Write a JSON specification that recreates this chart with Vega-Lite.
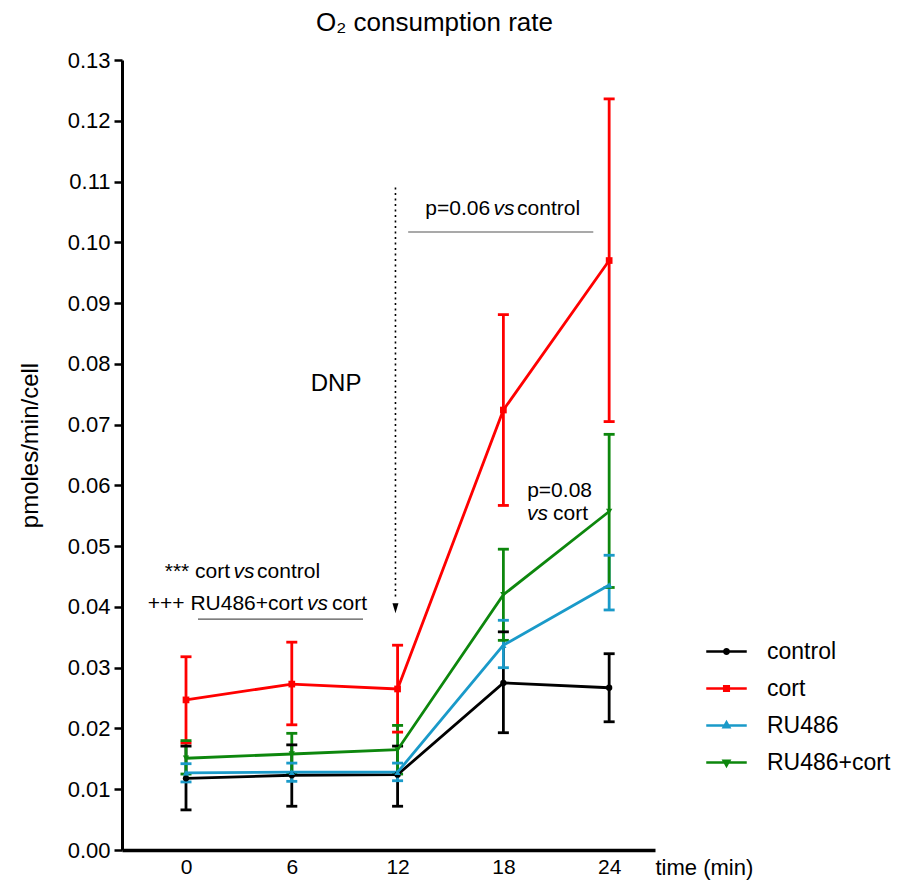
{
  "$schema": "https://vega.github.io/schema/vega-lite/v6.json",
  "width": 533,
  "height": 790,
  "autosize": {"type": "none"},
  "padding": {"left": 122, "top": 60, "right": 248, "bottom": 33},
  "background": "white",
  "config": {
    "view": {"stroke": null},
    "font": "Liberation Sans",
    "text": {"font": "Liberation Sans", "fontSize": 21, "color": "black"}
  },
  "title": {
    "text": "O₂ consumption rate",
    "font": "Liberation Sans",
    "fontSize": 26,
    "fontWeight": "normal",
    "color": "black",
    "anchor": "middle",
    "frame": "group",
    "dx": 46,
    "offset": -8,
    "baseline": "alphabetic"
  },
  "datasets": {
    "ocr": [
      {"series": "control", "t": 0, "mean": 0.0118, "lo": 0.0066, "hi": 0.0171},
      {"series": "control", "t": 6, "mean": 0.0123, "lo": 0.0072, "hi": 0.0173},
      {"series": "control", "t": 12, "mean": 0.0124, "lo": 0.0072, "hi": 0.0171},
      {"series": "control", "t": 18, "mean": 0.0275, "lo": 0.0193, "hi": 0.0359},
      {"series": "control", "t": 24, "mean": 0.0267, "lo": 0.0211, "hi": 0.0323},
      {"series": "cort", "t": 0, "mean": 0.0247, "lo": 0.0176, "hi": 0.0318},
      {"series": "cort", "t": 6, "mean": 0.0273, "lo": 0.0206, "hi": 0.0342},
      {"series": "cort", "t": 12, "mean": 0.0265, "lo": 0.0194, "hi": 0.0337},
      {"series": "cort", "t": 18, "mean": 0.0724, "lo": 0.0567, "hi": 0.0881},
      {"series": "cort", "t": 24, "mean": 0.0970, "lo": 0.0705, "hi": 0.1236},
      {"series": "RU486", "t": 0, "mean": 0.0127, "lo": 0.0112, "hi": 0.0142},
      {"series": "RU486", "t": 6, "mean": 0.0128, "lo": 0.0113, "hi": 0.0143},
      {"series": "RU486", "t": 12, "mean": 0.0128, "lo": 0.0114, "hi": 0.0143},
      {"series": "RU486", "t": 18, "mean": 0.0337, "lo": 0.0300, "hi": 0.0378},
      {"series": "RU486", "t": 24, "mean": 0.0436, "lo": 0.0395, "hi": 0.0485},
      {"series": "RU486+cort", "t": 0, "mean": 0.0151, "lo": 0.0125, "hi": 0.0180},
      {"series": "RU486+cort", "t": 6, "mean": 0.0158, "lo": 0.0126, "hi": 0.0192},
      {"series": "RU486+cort", "t": 12, "mean": 0.0165, "lo": 0.0125, "hi": 0.0205},
      {"series": "RU486+cort", "t": 18, "mean": 0.0420, "lo": 0.0345, "hi": 0.0495},
      {"series": "RU486+cort", "t": 24, "mean": 0.0557, "lo": 0.0432, "hi": 0.0684}
    ]
  },
  "layer": [
    {
      "data": {"name": "ocr"},
      "mark": {"type": "rule", "strokeWidth": 2.8},
      "encoding": {
        "x": {
          "field": "t", "type": "quantitative",
          "title": "time (min)",
          "scale": {"domain": [-3.63, 26.6], "nice": false, "zero": false},
          "axis": {
            "values": [0, 6, 12, 18, 24],
            "ticks": false,
            "grid": false,
            "domainColor": "black",
            "domainWidth": 3.5,
            "labelFont": "Liberation Sans",
            "labelFontSize": 21,
            "labelColor": "black",
            "labelPadding": 6,
            "title": "time (min)",
            "titleFont": "Liberation Sans",
            "titleFontSize": 22,
            "titleFontWeight": "normal",
            "titleColor": "black",
            "titleX": 533,
            "titleY": 17,
            "titleAlign": "left",
            "titleBaseline": "middle"
          }
        },
        "y": {
          "field": "lo", "type": "quantitative",
          "title": "pmoles/min/cell",
          "scale": {"domain": [0, 0.13], "nice": false},
          "axis": {
            "values": [0, 0.01, 0.02, 0.03, 0.04, 0.05, 0.06, 0.07, 0.08, 0.09, 0.1, 0.11, 0.12, 0.13],
            "format": ".2f",
            "grid": false,
            "domainColor": "black",
            "domainWidth": 3,
            "tickColor": "black",
            "tickWidth": 2.5,
            "tickSize": 8,
            "labelFont": "Liberation Sans",
            "labelFontSize": 22,
            "labelColor": "black",
            "labelPadding": 4,
            "title": "pmoles/min/cell",
            "titleFont": "Liberation Sans",
            "titleFontSize": 24,
            "titleFontWeight": "normal",
            "titleColor": "black",
            "titleX": -92,
            "titleY": 385,
            "titleAngle": -90,
            "titleAlign": "center",
            "titleBaseline": "middle"
          }
        },
        "y2": {"field": "hi"},
        "color": {
          "field": "series", "type": "nominal",
          "scale": {"domain": ["control", "cort", "RU486", "RU486+cort"], "range": ["#000000", "#ff0000", "#1a9ac9", "#0d870d"]}
        }
      }
    },
    {
      "data": {"name": "ocr"},
      "mark": {"type": "tick", "orient": "horizontal", "size": 11, "thickness": 2.8, "opacity": 1},
      "encoding": {
        "x": {"field": "t", "type": "quantitative", "title": "time (min)"},
        "y": {"field": "lo", "type": "quantitative", "title": "pmoles/min/cell"},
        "color": {"field": "series", "type": "nominal"}
      }
    },
    {
      "data": {"name": "ocr"},
      "mark": {"type": "tick", "orient": "horizontal", "size": 11, "thickness": 2.8, "opacity": 1},
      "encoding": {
        "x": {"field": "t", "type": "quantitative", "title": "time (min)"},
        "y": {"field": "hi", "type": "quantitative", "title": "pmoles/min/cell"},
        "color": {"field": "series", "type": "nominal"}
      }
    },
    {
      "data": {"name": "ocr"},
      "mark": {"type": "line", "strokeWidth": 2.8},
      "encoding": {
        "x": {"field": "t", "type": "quantitative", "title": "time (min)"},
        "y": {"field": "mean", "type": "quantitative", "title": "pmoles/min/cell"},
        "color": {"field": "series", "type": "nominal"}
      }
    },
    {
      "data": {"name": "ocr"},
      "transform": [{"filter": "datum.series === 'control'"}],
      "mark": {"type": "point", "filled": true, "size": 40, "opacity": 1, "shape": "circle", "color": "#000000"},
      "encoding": {
        "x": {"field": "t", "type": "quantitative", "title": "time (min)"},
        "y": {"field": "mean", "type": "quantitative", "title": "pmoles/min/cell"}
      }
    },
    {
      "data": {"name": "ocr"},
      "transform": [{"filter": "datum.series === 'cort'"}],
      "mark": {"type": "point", "filled": true, "size": 45, "opacity": 1, "shape": "square", "color": "#ff0000"},
      "encoding": {
        "x": {"field": "t", "type": "quantitative", "title": "time (min)"},
        "y": {"field": "mean", "type": "quantitative", "title": "pmoles/min/cell"}
      }
    },
    {
      "data": {"name": "ocr"},
      "transform": [{"filter": "datum.series === 'RU486'"}],
      "mark": {"type": "point", "filled": true, "size": 40, "opacity": 1, "shape": "triangle-up", "color": "#1a9ac9"},
      "encoding": {
        "x": {"field": "t", "type": "quantitative", "title": "time (min)"},
        "y": {"field": "mean", "type": "quantitative", "title": "pmoles/min/cell"}
      }
    },
    {
      "data": {"name": "ocr"},
      "transform": [{"filter": "datum.series === 'RU486+cort'"}],
      "mark": {"type": "point", "filled": true, "size": 40, "opacity": 1, "shape": "triangle-down", "color": "#0d870d"},
      "encoding": {
        "x": {"field": "t", "type": "quantitative", "title": "time (min)"},
        "y": {"field": "mean", "type": "quantitative", "title": "pmoles/min/cell"}
      }
    },
    {
      "data": {"name": "ocr"},
      "mark": {"type": "point", "filled": false, "size": 0, "strokeWidth": 2.6, "opacity": 1},
      "encoding": {
        "x": {"field": "t", "type": "quantitative", "title": "time (min)"},
        "y": {"field": "mean", "type": "quantitative", "title": "pmoles/min/cell"},
        "color": {
          "field": "series", "type": "nominal",
          "legend": {
            "orient": "none", "legendX": 588, "legendY": 575, "title": null, "padding": 0,
            "labelFont": "Liberation Sans", "labelFontSize": 23, "labelColor": "black",
            "symbolSize": 900, "symbolStrokeWidth": 2.6, "labelOffset": 24, "rowPadding": 8
          }
        },
        "shape": {
          "field": "series", "type": "nominal",
          "scale": {
            "domain": ["control", "cort", "RU486", "RU486+cort"],
            "range": [
              "M-1.35,0H1.35M-0.15,0A0.15,0.15,0,1,0,0.15,0A0.15,0.15,0,1,0,-0.15,0Z",
              "M-1.35,0H1.35M-0.15,-0.15H0.15V0.15H-0.15Z",
              "M-1.35,0H1.35M0,-0.2L0.18,0.12L-0.18,0.12Z",
              "M-1.35,0H1.35M0,0.2L0.18,-0.12L-0.18,-0.12Z"
            ]
          },
          "legend": {
            "orient": "none", "legendX": 588, "legendY": 575, "title": null, "padding": 0,
            "labelFont": "Liberation Sans", "labelFontSize": 23, "labelColor": "black",
            "symbolSize": 900, "symbolStrokeWidth": 2.6, "labelOffset": 24, "rowPadding": 8
          }
        }
      }
    },
    {
      "data": {"values": [
        {"t": 12.6, "t2": 23.1, "v": 0.1017, "v2": 0.1017},
        {"t": 0.68, "t2": 10.04, "v": 0.0380, "v2": 0.0380}
      ]},
      "mark": {"type": "rule", "color": "#555555", "strokeWidth": 1.2},
      "encoding": {
        "x": {"field": "t", "type": "quantitative", "title": "time (min)"},
        "x2": {"field": "t2"},
        "y": {"field": "v", "type": "quantitative", "title": "pmoles/min/cell"},
        "y2": {"field": "v2"}
      }
    },
    {
      "data": {"values": [{"t": 11.88, "v": 0.1090, "v2": 0.0412}]},
      "mark": {"type": "rule", "color": "black", "strokeWidth": 1.6, "strokeDash": [2, 3.5]},
      "encoding": {
        "x": {"field": "t", "type": "quantitative", "title": "time (min)"},
        "y": {"field": "v", "type": "quantitative", "title": "pmoles/min/cell"},
        "y2": {"field": "v2"}
      }
    },
    {
      "data": {"values": [{"t": 11.88, "v": 0.0398}]},
      "mark": {"type": "point", "shape": "M-0.6,-1L0.6,-1L0,1Z", "size": 100, "filled": true, "color": "black", "opacity": 1},
      "encoding": {
        "x": {"field": "t", "type": "quantitative", "title": "time (min)"},
        "y": {"field": "v", "type": "quantitative", "title": "pmoles/min/cell"}
      }
    },
    {
      "data": {"values": [
        {"t": 18.78, "v": 0.1045, "txt": "control"},
        {"t": 19.35, "v": 0.0581, "txt": "p=0.08"},
        {"t": 20.82, "v": 0.0543, "txt": "cort"},
        {"t": 4.03, "v": 0.0448, "txt": "control"},
        {"t": 8.28, "v": 0.0395, "txt": "cort"}
      ]},
      "mark": {"type": "text", "align": "left", "baseline": "alphabetic", "fontSize": 21, "color": "black"},
      "encoding": {
        "x": {"field": "t", "type": "quantitative", "title": "time (min)"},
        "y": {"field": "v", "type": "quantitative", "title": "pmoles/min/cell"},
        "text": {"field": "txt"}
      }
    },
    {
      "data": {"values": [
        {"t": 17.25, "v": 0.1045, "txt": "p=0.06"},
        {"t": 2.50, "v": 0.0448, "txt": "*** cort"},
        {"t": 6.64, "v": 0.0395, "txt": "+++ RU486+cort"}
      ]},
      "mark": {"type": "text", "align": "right", "baseline": "alphabetic", "fontSize": 21, "color": "black"},
      "encoding": {
        "x": {"field": "t", "type": "quantitative", "title": "time (min)"},
        "y": {"field": "v", "type": "quantitative", "title": "pmoles/min/cell"},
        "text": {"field": "txt"}
      }
    },
    {
      "data": {"values": [
        {"t": 18.04, "v": 0.1045, "txt": "vs"},
        {"t": 19.94, "v": 0.0543, "txt": "vs"},
        {"t": 3.29, "v": 0.0448, "txt": "vs"},
        {"t": 7.46, "v": 0.0395, "txt": "vs"}
      ]},
      "mark": {"type": "text", "align": "center", "baseline": "alphabetic", "fontSize": 21, "fontStyle": "italic", "color": "black"},
      "encoding": {
        "x": {"field": "t", "type": "quantitative", "title": "time (min)"},
        "y": {"field": "v", "type": "quantitative", "title": "pmoles/min/cell"},
        "text": {"field": "txt"}
      }
    },
    {
      "data": {"values": [{"t": 8.51, "v": 0.0755, "txt": "DNP"}]},
      "mark": {"type": "text", "align": "center", "baseline": "alphabetic", "fontSize": 24, "color": "black"},
      "encoding": {
        "x": {"field": "t", "type": "quantitative", "title": "time (min)"},
        "y": {"field": "v", "type": "quantitative", "title": "pmoles/min/cell"},
        "text": {"field": "txt"}
      }
    }
  ]
}
